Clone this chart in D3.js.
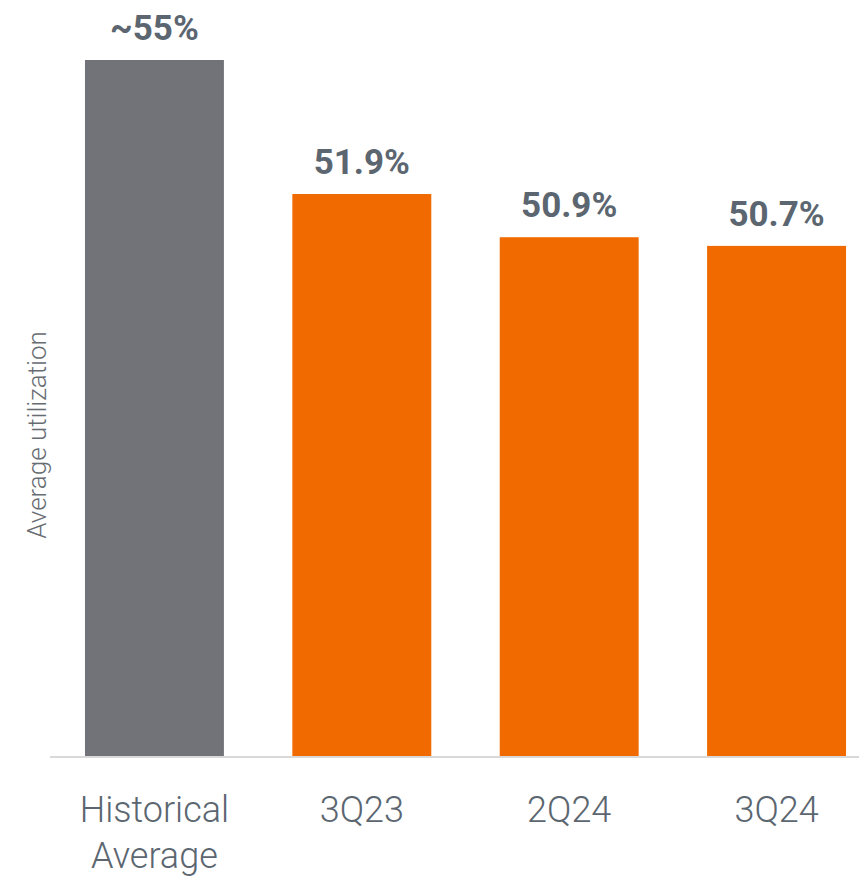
<!DOCTYPE html>
<html>
<head>
<meta charset="utf-8">
<script src="https://cdn.jsdelivr.net/npm/d3@7"></script>
<style>
  body { margin: 0; background: #fff; }
  text { font-family: Roboto, "Noto Sans", sans-serif; }
</style>
</head>
<body>
<svg width="859" height="877"></svg>
<script>
var categories = ["Historical Average", "3Q23", "2Q24", "3Q24"],
    values = [55, 51.9, 50.9, 50.7],
    valueLabels = ["~55%", "51.9%", "50.9%", "50.7%"],
    barColors = ["#727379", "#f06a00", "#f06a00", "#f06a00"];

var svg = d3.select("svg"),
    baseY = 756;

var xScale = d3.scaleBand().domain(categories).range([50.75, 880.25])
        .paddingInner(0.33).paddingOuter(0.165),
    yScale = d3.scaleLinear().domain([38.9, 55]).range([baseY, 60]);

// bars
svg.selectAll(".bar")
   .data(values)
   .enter().append("rect")
   .attr("class", "bar")
   .attr("x", function(d, i) { return xScale(categories[i]); })
   .attr("y", function(d) { return yScale(d); })
   .attr("width", xScale.bandwidth())
   .attr("height", function(d) { return baseY - yScale(d); })
   .attr("fill", function(d, i) { return barColors[i]; });

// value labels
svg.selectAll(".val")
   .data(values)
   .enter().append("text")
   .attr("class", "val")
   .attr("x", function(d, i) { return xScale(categories[i]) + xScale.bandwidth() / 2; })
   .attr("y", function(d) { return yScale(d) - 20; })
   .attr("text-anchor", "middle")
   .attr("font-size", "35px")
   .attr("font-weight", "bold")
   .attr("fill", "#5b6670")
   .text(function(d, i) { return valueLabels[i]; });

// baseline
svg.append("line")
   .attr("x1", 50).attr("x2", 859)
   .attr("y1", baseY + 1).attr("y2", baseY + 1)
   .attr("stroke", "#d9d9d9")
   .attr("stroke-width", 2);

// category labels (wrap on space for the long one)
svg.selectAll(".cat")
   .data(categories)
   .enter().append("text")
   .attr("class", "cat")
   .attr("x", function(d) { return xScale(d) + xScale.bandwidth() / 2; })
   .attr("y", 822)
   .attr("text-anchor", "middle")
   .attr("font-size", "36px")
   .attr("font-weight", 300)
   .attr("fill", "#5b6670")
   .each(function(d) {
       var words = d.length > 6 ? d.split(" ") : [d];
       var t = d3.select(this);
       words.forEach(function(w, k) {
           t.append("tspan")
            .attr("x", t.attr("x"))
            .attr("dy", k === 0 ? 0 : 46)
            .text(w);
       });
   });

// y axis title
svg.append("text")
   .attr("transform", "translate(46,435) rotate(-90)")
   .attr("text-anchor", "middle")
   .attr("font-size", "26px")
   .attr("font-weight", 300)
   .attr("fill", "#676c72")
   .text("Average utilization");
</script>
</body>
</html>
